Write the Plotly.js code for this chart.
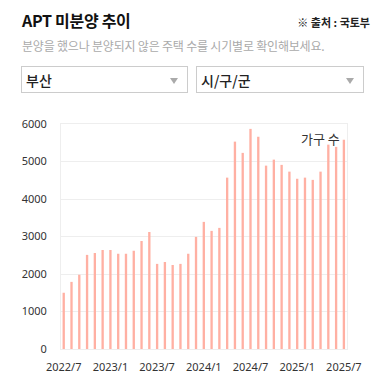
<!DOCTYPE html>
<html><head><meta charset="utf-8">
<script src="https://cdn.plot.ly/plotly-3.0.1.min.js"></script>
<style>
html,body{margin:0;padding:0;background:#fff;width:380px;height:383px;overflow:hidden;font-family:"Noto Sans CJK KR","Noto Sans",sans-serif;}
#chart{position:absolute;left:0;top:0;width:380px;height:383px;}
.abs{position:absolute;z-index:5;white-space:nowrap;}
#title{left:22px;top:8px;font-size:16px;font-weight:700;color:#111;letter-spacing:-0.3px;}
#src{right:10px;top:14px;font-size:11px;font-weight:700;color:#222;}
#sub{left:22px;top:37px;font-size:12px;color:#aaa;letter-spacing:-0.2px;}
.sel{top:66px;width:167px;height:27px;border:1px solid #ccc;box-sizing:border-box;background:#fff;}
.sel span{position:absolute;left:4px;top:3px;font-size:14px;font-weight:500;color:#222;}
.sel i{position:absolute;right:9px;top:11px;width:0;height:0;border-left:4px solid transparent;border-right:4px solid transparent;border-top:6px solid #aaa;}
</style></head>
<body>
<div id="chart"></div>
<div class="abs" id="title">APT 미분양 추이</div>
<div class="abs" id="src">※ 출처 : 국토부</div>
<div class="abs" id="sub">분양을 했으나 분양되지 않은 주택 수를 시기별로 확인해보세요.</div>
<div class="abs sel" style="left:21px;"><span>부산</span><i></i></div>
<div class="abs sel" style="left:196px;width:168px;"><span>시/구/군</span><i></i></div>
<script>
const months = ["2022/7","2022/8","2022/9","2022/10","2022/11","2022/12",
"2023/1","2023/2","2023/3","2023/4","2023/5","2023/6",
"2023/7","2023/8","2023/9","2023/10","2023/11","2023/12",
"2024/1","2024/2","2024/3","2024/4","2024/5","2024/6",
"2024/7","2024/8","2024/9","2024/10","2024/11","2024/12",
"2025/1","2025/2","2025/3","2025/4","2025/5","2025/6","2025/7"];
const households = [1500,1790,1980,2510,2560,2640,
2640,2540,2540,2620,2880,3120,
2270,2320,2240,2270,2540,2990,
3390,3150,3230,4570,5530,5230,
5870,5660,4890,5050,4910,4730,
4540,4570,4510,4730,5450,5390,5580];
const tickLabels = ["2022/7","2023/1","2023/7","2024/1","2024/7","2025/1","2025/7"];
const seriesName = "가구 수";

const tickFont = {family:"Noto Sans, sans-serif", size:11, color:"#333"};
Plotly.newPlot("chart", [{
  type:"bar", x:months, y:households, name:seriesName,
  marker:{color:"#ffb0a3"}, hoverinfo:"x+y"
}], {
  width:380, height:383,
  margin:{l:61, r:33, t:124, b:34, pad:0},
  paper_bgcolor:"rgba(0,0,0,0)", plot_bgcolor:"#fff",
  bargap:0.7, showlegend:false,
  xaxis:{type:"category", range:[-0.35,36.4], tickvals:tickLabels, ticktext:tickLabels,
    showgrid:false, showline:true, linecolor:"#eee", mirror:true, ticks:"",
    tickfont:tickFont, ticklabelstandoff:8, zeroline:false, fixedrange:true},
  yaxis:{range:[0,6000], dtick:1000, tick0:0, showgrid:true, gridcolor:"#eee",
    showline:true, linecolor:"#eee", mirror:true, ticks:"", zeroline:false,
    tickfont:tickFont, ticklabelstandoff:11, fixedrange:true},
  annotations:[{text:seriesName, xref:"paper", yref:"paper", x:1, y:1, xanchor:"right", yanchor:"top",
    xshift:-5, yshift:-3, showarrow:false, font:{family:"Noto Sans CJK KR, sans-serif", size:13, color:"#333"}}]
}, {displayModeBar:false, staticPlot:true});
</script>
</body></html>
